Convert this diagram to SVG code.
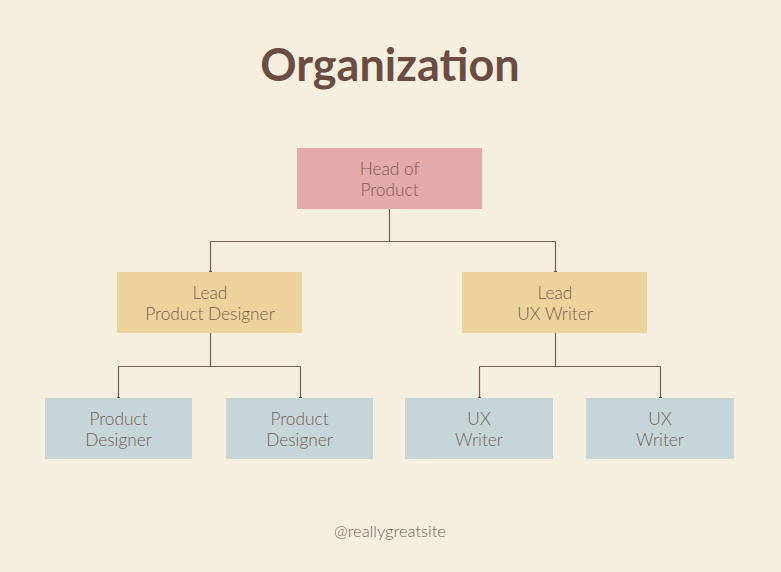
<svg xmlns="http://www.w3.org/2000/svg" width="781" height="572" viewBox="0 0 781 572">
<defs>
<style>
.t{font-family:"Lato","Open Sans","Liberation Sans",sans-serif;font-size:17.3px;font-weight:300;fill:#7a5e55;text-anchor:middle}
.title{font-family:"Lato","Open Sans","Liberation Sans",sans-serif;font-size:45px;font-weight:700;fill:#6b4c42;text-anchor:middle}
.foot{font-family:"Lato","Open Sans","Liberation Sans",sans-serif;font-size:16.5px;font-weight:300;fill:#7a5e55;text-anchor:middle}
.head{fill:#e4a9aa}
.lead{fill:#ecd39c}
.leaf{fill:#c5d5d8}
.c{fill:none;stroke:#7a5e55;stroke-width:1.2}
.d{fill:#6b4c42}
</style>
</defs>
<rect width="781" height="572" fill="#f5efe0"/>
<text class="title" x="390" y="81">Organization</text>
<g id="connectors">
<path class="c" d="M389.5 209V241.5M210.5 241.5H555.5M210.5 241.5V272M555.5 241.5V272"/>
<path class="c" d="M210.5 333V366.5M118.5 366.5H300.5M118.5 366.5V398M300.5 366.5V398"/>
<path class="c" d="M555.5 333V366.5M479.5 366.5H660.5M479.5 366.5V398M660.5 366.5V398"/>
<circle class="d" cx="210.5" cy="272" r="1.6"/>
<circle class="d" cx="555.5" cy="272" r="1.6"/>
<circle class="d" cx="118.5" cy="398" r="1.6"/>
<circle class="d" cx="300.5" cy="398" r="1.6"/>
<circle class="d" cx="479.5" cy="398" r="1.6"/>
<circle class="d" cx="660.5" cy="398" r="1.6"/>
</g>
<g id="head">
<rect class="head" x="297" y="148" width="185" height="61"/>
<text class="t" x="389.5" y="175">Head of</text>
<text class="t" x="389.5" y="196">Product</text>
</g>
<g id="lead-pd">
<rect class="lead" x="117" y="272" width="185" height="61"/>
<text class="t" x="210" y="299">Lead</text>
<text class="t" x="210" y="320">Product Designer</text>
</g>
<g id="lead-ux">
<rect class="lead" x="462" y="272" width="185" height="61"/>
<text class="t" x="555" y="299">Lead</text>
<text class="t" x="555" y="320">UX Writer</text>
</g>
<g id="pd1">
<rect class="leaf" x="45" y="398" width="147" height="61"/>
<text class="t" x="118.5" y="425">Product</text>
<text class="t" x="118.5" y="446">Designer</text>
</g>
<g id="pd2">
<rect class="leaf" x="226" y="398" width="147" height="61"/>
<text class="t" x="299.5" y="425">Product</text>
<text class="t" x="299.5" y="446">Designer</text>
</g>
<g id="ux1">
<rect class="leaf" x="405" y="398" width="148" height="61"/>
<text class="t" x="479" y="425">UX</text>
<text class="t" x="479" y="446">Writer</text>
</g>
<g id="ux2">
<rect class="leaf" x="586" y="398" width="148" height="61"/>
<text class="t" x="660" y="425">UX</text>
<text class="t" x="660" y="446">Writer</text>
</g>
<text class="foot" x="390" y="537">@reallygreatsite</text>
</svg>
